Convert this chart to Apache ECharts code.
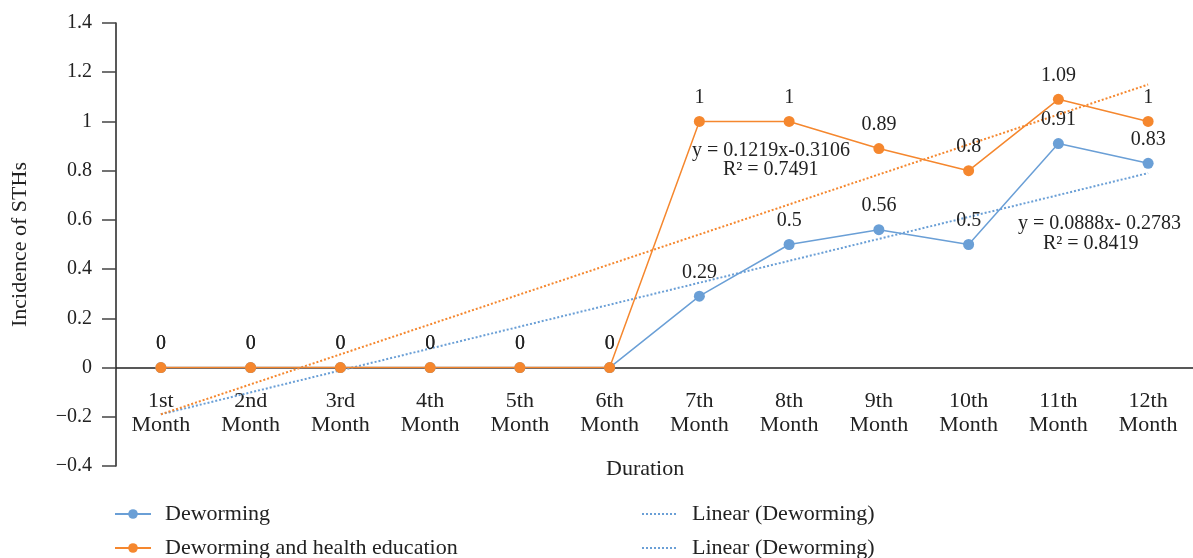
<!DOCTYPE html>
<html>
<head>
<meta charset="utf-8">
<script src="https://cdn.jsdelivr.net/npm/echarts@6/dist/echarts.min.js"></script>
<style>
  html, body { margin: 0; padding: 0; background: #fff; }
  #chart { width: 1193px; height: 558px; }
</style>
</head>
<body>
<div id="chart"></div>
<script>
const months = ['1st\nMonth', '2nd\nMonth', '3rd\nMonth', '4th\nMonth', '5th\nMonth', '6th\nMonth',
  '7th\nMonth', '8th\nMonth', '9th\nMonth', '10th\nMonth', '11th\nMonth', '12th\nMonth']
const deworming = [0, 0, 0, 0, 0, 0, 0.29, 0.5, 0.56, 0.5, 0.91, 0.83]
const dewormingHealth = [0, 0, 0, 0, 0, 0, 1, 1, 0.89, 0.8, 1.09, 1]
// trendline end points (1st and 12th month)
const trendDeworming = [-0.19, 0.79]
const trendHealth = [-0.19, 1.15]

const BLUE = '#6a9fd6'
const ORANGE = '#f5872e'
const FONT = 'Liberation Serif'
const INK = '#222'

const chart = echarts.init(document.getElementById('chart'))

const labelStyle = { show: true, position: 'top', distance: 8, color: INK, fontSize: 20, fontFamily: FONT }
const last = months.length - 1

// one legend per entry so the 2x2 layout matches
function legendAt(left, top, item) {
  return {
    left, top, orient: 'horizontal', itemWidth: 36, itemHeight: 12,
    textStyle: { fontSize: 22, color: INK, fontFamily: FONT, padding: [0, 0, 0, 9] },
    data: [item],
  }
}

chart.setOption({
  animation: false,
  textStyle: { fontFamily: FONT },
  grid: { left: 116, top: 23, right: -15, bottom: 92 },
  legend: [
    legendAt(109, 498, 'Deworming'),
    legendAt(109, 532, 'Deworming and health education'),
    legendAt(636, 498, { name: 'Linear (Deworming)', itemStyle: { opacity: 0 } }),
    legendAt(636, 532, {
      name: 'Linear (Deworming) ',
      itemStyle: { opacity: 0 },
      lineStyle: { color: BLUE },
    }),
  ],
  xAxis: {
    type: 'category',
    data: months,
    offset: -98,
    axisLine: { onZero: false, lineStyle: { color: INK, width: 1.5 } },
    axisTick: { alignWithLabel: true, length: 14, lineStyle: { color: '#333', width: 1.5 } },
    axisLabel: { color: INK, fontSize: 22, fontFamily: FONT, lineHeight: 24, margin: 21, interval: 0 },
  },
  yAxis: {
    type: 'value',
    min: -0.4,
    max: 1.4,
    interval: 0.2,
    name: 'Incidence of STHs',
    nameLocation: 'middle',
    nameGap: 85,
    nameTextStyle: { color: INK, fontSize: 22, fontFamily: FONT },
    axisLine: { show: true, lineStyle: { color: INK, width: 1.5 } },
    axisTick: { show: true, length: 14, lineStyle: { color: '#444', width: 1.5 } },
    splitLine: { show: false },
    axisLabel: {
      color: INK, fontSize: 20, fontFamily: FONT, margin: 24,
      formatter: v => String(Math.round(v * 10) / 10).replace('-', '\u2212'),
    },
  },
  graphic: [
    { type: 'text', left: 606, top: 458, style: { text: 'Duration', fontSize: 22, fontFamily: FONT, fill: INK } },
    { type: 'text', left: 692, top: 141, style: { text: 'y = 0.1219x-0.3106', fontSize: 20, fontFamily: FONT, fill: INK } },
    { type: 'text', left: 723, top: 160, style: { text: 'R\u00b2 = 0.7491', fontSize: 20, fontFamily: FONT, fill: INK } },
    { type: 'text', left: 1018, top: 214, style: { text: 'y = 0.0888x- 0.2783', fontSize: 20, fontFamily: FONT, fill: INK } },
    { type: 'text', left: 1043, top: 234, style: { text: 'R\u00b2 = 0.8419', fontSize: 20, fontFamily: FONT, fill: INK } },
  ],
  series: [
    {
      name: 'Linear (Deworming)',
      type: 'line',
      data: [[0, trendDeworming[0]], [last, trendDeworming[1]]],
      symbol: 'none',
      lineStyle: { color: BLUE, width: 2, type: 'dotted' },
      itemStyle: { color: BLUE },
      z: 1,
    },
    {
      name: 'Linear (Deworming) ',
      type: 'line',
      data: [[0, trendHealth[0]], [last, trendHealth[1]]],
      symbol: 'none',
      lineStyle: { color: ORANGE, width: 2, type: 'dotted' },
      itemStyle: { color: ORANGE },
      z: 1,
    },
    {
      name: 'Deworming',
      type: 'line',
      data: deworming,
      symbol: 'circle',
      symbolSize: 11,
      lineStyle: { color: BLUE, width: 1.5 },
      itemStyle: { color: BLUE },
      label: labelStyle,
      z: 2,
    },
    {
      name: 'Deworming and health education',
      type: 'line',
      data: dewormingHealth,
      symbol: 'circle',
      symbolSize: 11,
      lineStyle: { color: ORANGE, width: 1.5 },
      itemStyle: { color: ORANGE },
      label: labelStyle,
      z: 3,
    },
  ],
})
</script>
</body>
</html>
